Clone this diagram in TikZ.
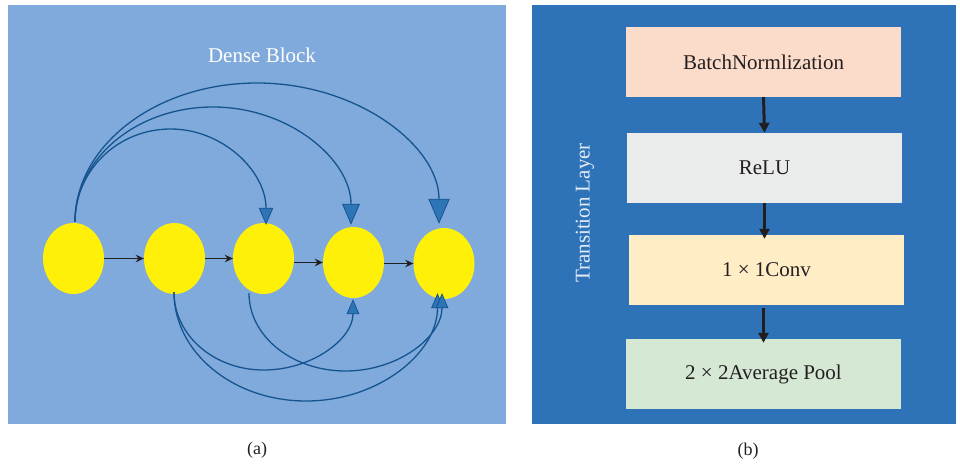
\documentclass[tikz,border=0pt]{standalone}
\usepackage{fontspec}
\setmainfont{Liberation Serif}
\usetikzlibrary{arrows.meta,shapes.geometric,calc}

\definecolor{densebg}{RGB}{127,170,219}
\definecolor{transbg}{RGB}{46,115,184}
\definecolor{cellyellow}{RGB}{255,240,10}
\definecolor{skipline}{RGB}{22,84,145}
\definecolor{skiphead}{RGB}{46,117,182}
\definecolor{flowblack}{RGB}{34,30,32}
\definecolor{bnfill}{RGB}{251,220,203}
\definecolor{relufill}{RGB}{234,236,235}
\definecolor{convfill}{RGB}{255,237,198}
\definecolor{poolfill}{RGB}{213,232,212}
\definecolor{labeltxt}{RGB}{35,31,32}
\definecolor{sidetxt}{RGB}{228,236,247}

\begin{document}
\begin{tikzpicture}[x=1pt,y=-1pt,
  cell/.style={ellipse,fill=cellyellow,inner sep=0pt,minimum width=61pt,minimum height=71pt},
  feed/.style={draw=flowblack,line width=1.8pt,-{Stealth[length=8pt,width=7.5pt]}},
  skip/.style={draw=skipline,line width=1.3pt},
  bighead/.style={-{Triangle[length=#1,width=0.85*#1,fill=skiphead,line width=0.8pt]}},
  stage/.style={minimum width=275pt,minimum height=70pt,inner sep=0pt,
                font=\fontsize{21}{24}\selectfont,text=labeltxt},
  flow/.style={draw=flowblack,line width=3pt,-{Triangle[length=10pt,width=10pt]}},
  caption/.style={font=\fontsize{18}{21}\selectfont,text=labeltxt}]

% page frame
\useasboundingbox (0,0) rectangle (960,468);

% panel backgrounds
\fill[densebg] (8,5) rectangle (506,424);
\fill[transbg] (532,5) rectangle (956,424);

% ---------------- (a) dense block ----------------
\node[font=\fontsize{21}{24}\selectfont,text=white] (title) at (262,55) {Dense Block};

\node[cell] (e1) at (73.5,258.5) {};
\node[cell] (e2) at (174.5,258.5) {};
\node[cell] (e3) at (263.5,258.5) {};
\node[cell] (e4) at (353.5,262.5) {};
\node[cell] (e5) at (444,263.5) {};

% sequential links
\draw[feed] (e1.east) -- (e2.west);
\draw[feed] (e2.east) -- (e3.west);
\draw[feed] (e3.east |- e4.west) -- (e4.west);
\draw[feed] (e4.east |- e5.west) -- (e5.west);

% end points of the skip connections
\coordinate (s1) at ($(e1.north)+(1.5,-1)$);
\coordinate (s2) at ($(e2.south)+(-0.5,-2)$);
\coordinate (s3) at ($(e3.south)+(-14.5,-1)$);
\coordinate (t3) at ($(e3.north)+(2.5,2)$);
\coordinate (t4) at ($(e4.north)+(-2.5,-2)$);
\coordinate (t5) at ($(e5.north)+(-5,-4)$);
\coordinate (t24) at ($(e4.south)+(-0.5,1)$);
\coordinate (t25) at ($(e5.south)+(-6.5,-6)$);
\coordinate (t35) at ($(e5.south)+(-2,-6)$);

% apexes of the arcs
\coordinate (p3) at (170.5,129);
\coordinate (p4) at (213,107);
\coordinate (p5) at (257,83);
\coordinate (q24) at (263.5,370);
\coordinate (q25) at (306,401);
\coordinate (q35) at (345.5,371);

% arcs over the top
\draw[skip,bighead=17pt] (s1) .. controls +(0,-51.3) and +(-52.7,0) .. (p3)
      .. controls +(52.7,0) and +(0,-53) .. (t3);
\draw[skip,bighead=21pt] (s1) .. controls +(0,-63.5) and +(-76.2,0) .. (p4)
      .. controls +(76.2,0) and +(0,-65.1) .. (t4);
\draw[skip,bighead=25pt] (s1) .. controls +(0,-76.7) and +(-100.5,0) .. (p5)
      .. controls +(100.5,0) and +(0,-77.8) .. (t5);

% arcs underneath
\draw[skip,bighead=15pt] (s2) .. controls +(0,43.1) and +(-49.4,0) .. (q24)
      .. controls +(49.4,0) and +(0,39.2) .. (t24);
\draw[skip,bighead=15pt] (s2) .. controls +(0,60.2) and +(-72.9,0) .. (q25)
      .. controls +(72.9,0) and +(0,59.6) .. (t25);
\draw[skip,bighead=15pt] (s3) .. controls +(0,43.1) and +(-53.3,0) .. (q35)
      .. controls +(53.3,0) and +(0,43.1) .. (t35);

% ---------------- (b) transition layer ----------------
\node[rotate=90,font=\fontsize{21}{24}\selectfont,text=sidetxt] (side) at (585,213) {Transition Layer};

\node[stage,fill=bnfill]   (bn)   at (763.5,62)  {BatchNormlization};
\node[stage,fill=relufill] (relu) at (764.5,168) {ReLU};
\node[stage,fill=convfill] (conv) at (766.5,270) {1 × 1Conv};
\node[stage,fill=poolfill] (pool) at (763.5,374) {2 × 2Average Pool};

\draw[flow] (bn.south) -- (relu.north);
\draw[flow] (relu.south) -- ($(relu.south |- conv.north)+(0,4)$);
\draw[flow] ($(pool.north |- conv.south)+(0,3)$) -- ($(pool.north)+(0,4)$);

% captions
\node[caption] (capa) at (257,450) {(a)};
\node[caption] (capb) at (748,451) {(b)};
\end{tikzpicture}
\end{document}
